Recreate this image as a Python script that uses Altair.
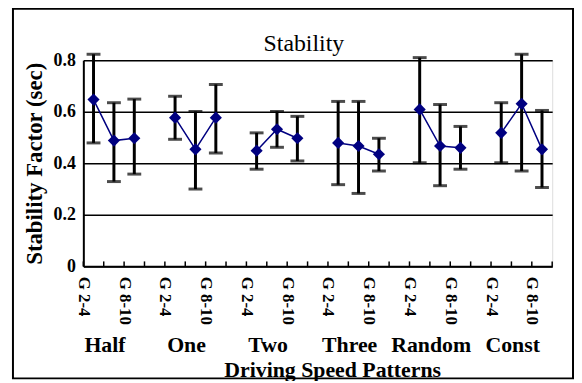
import altair as alt
import pandas as pd

groups = ["Half", "One", "Two", "Three", "Random", "Const"]
levels = ["G 2-4", "G 5-7", "G 8-10"]
means = [0.647, 0.488, 0.497,
         0.577, 0.454, 0.577,
         0.449, 0.532, 0.497,
         0.479, 0.467, 0.435,
         0.609, 0.467, 0.460,
         0.518, 0.631, 0.454]
lowers = [0.479, 0.329, 0.358,
          0.493, 0.300, 0.440,
          0.377, 0.462, 0.409,
          0.317, 0.283, 0.370,
          0.402, 0.313, 0.377,
          0.402, 0.370, 0.306]
uppers = [0.823, 0.635, 0.649,
          0.660, 0.601, 0.706,
          0.518, 0.601, 0.582,
          0.640, 0.640, 0.497,
          0.810, 0.628, 0.543,
          0.635, 0.823, 0.605]
y_ticks = [0, 0.2, 0.4, 0.6, 0.8]
chart_title = "Stability"

SERIF = "Liberation Serif"
NAVY = "#000080"
W, H = 473, 208

rows = []
for gi, g in enumerate(groups):
    for li, lv in enumerate(levels):
        k = gi * len(levels) + li
        rows.append({"group": g, "level": lv, "slot": gi * 4 + li + 1,
                     "mean": means[k], "lo": lowers[k], "hi": uppers[k]})
df = pd.DataFrame(rows)

n_slots = len(groups) * 4 - 1
boundaries = [i + 0.5 for i in range(n_slots + 1)]
label_pos = [b for i, b in enumerate(boundaries) if i % 2 == 0 and i < n_slots]

xscale = alt.Scale(domain=[0.5, n_slots + 0.5], nice=False, zero=False)
yscale = alt.Scale(domain=[0, 0.8], nice=False)

xaxis = alt.Axis(values=label_pos, ticks=False, grid=False,
                 labelExpr="(datum.value - 0.5) % 4 == 0 ? 'G 2-4' : 'G 8-10'",
                 labelAngle=90, labelAlign="left", labelBaseline="middle",
                 labelFont=SERIF, labelFontWeight="bold", labelFontSize=17,
                 labelColor="black", labelPadding=10, labelOverlap=False,
                 labelFlush=False, labelBound=False,
                 domainColor="black", domainWidth=2,
                 title="Driving Speed Patterns", titleFont=SERIF,
                 titleFontWeight="bold", titleFontSize=22, titleColor="black",
                 titleX=251, titleY=111, titleBaseline="alphabetic",
                 titleAnchor="middle", titleAlign="center")
yaxis = alt.Axis(values=y_ticks, ticks=False, grid=True, gridColor="black",
                 gridWidth=1.5, gridOpacity=1,
                 labelExpr="datum.value == 0 ? '0' : format(datum.value, '.1f')",
                 labelFont=SERIF, labelFontWeight="bold", labelFontSize=18,
                 labelColor="black", labelPadding=8,
                 domainColor="black", domainWidth=2,
                 title="Stability Factor (sec)", titleFont=SERIF,
                 titleFontWeight="bold", titleFontSize=23, titleColor="black",
                 titlePadding=7)

base = alt.Chart(df)
x = alt.X("slot:Q", scale=xscale, axis=xaxis)

bars = base.mark_rule(color="black", strokeWidth=3).encode(
    x=x, y=alt.Y("lo:Q", scale=yscale, axis=yaxis), y2="hi:Q")
cap_hi = base.mark_tick(orient="horizontal", size=14, thickness=3, color="black").encode(
    x="slot:Q", y="hi:Q")
cap_lo = base.mark_tick(orient="horizontal", size=14, thickness=3, color="black").encode(
    x="slot:Q", y="lo:Q")
line = base.mark_line(color=NAVY, strokeWidth=1.5).encode(
    x="slot:Q", y="mean:Q", detail="group:N")
pts = base.mark_point(shape="diamond", filled=True, size=150, color=NAVY, opacity=1).encode(
    x="slot:Q", y="mean:Q")

tick_df = pd.DataFrame({"b": boundaries})
inner_ticks = alt.Chart(tick_df).mark_rule(color="black", strokeWidth=1.5).encode(
    x=alt.X("b:Q", scale=xscale), y=alt.value(H), y2=alt.value(H - 5))

grp_df = pd.DataFrame({"group": groups, "mid": [gi * 4 + 2 for gi in range(len(groups))]})
grp_text = alt.Chart(grp_df).mark_text(font=SERIF, fontWeight="bold", fontSize=22,
                                       baseline="alphabetic", dx=-9, color="black").encode(
    x=alt.X("mid:Q", scale=xscale), y=alt.value(294), text="group:N")

title_text = alt.Chart(pd.DataFrame({"t": [chart_title]})).mark_text(
    font=SERIF, fontSize=24, fontWeight="normal", baseline="alphabetic",
    align="center", color="black").encode(
    x=alt.value(W / 2 - 14), y=alt.value(-9), text="t:N")

frame = alt.Chart(pd.DataFrame({"a": [0]})).mark_rect(
    fill="transparent", stroke="black", strokeWidth=2).encode(
    x=alt.value(-71), x2=alt.value(494), y=alt.value(-52), y2=alt.value(321))

chart = alt.layer(frame, bars, cap_hi, cap_lo, line, pts, inner_ticks, grp_text,
                  title_text).properties(
    width=W, height=H,
    autosize=alt.AutoSizeParams(type="none"),
    padding={"left": 76, "top": 51, "right": 22, "bottom": 114},
).configure_view(stroke="black", strokeWidth=2).configure(background="white")

chart.save("out.html", embed_options={"renderer": "svg", "actions": False})
